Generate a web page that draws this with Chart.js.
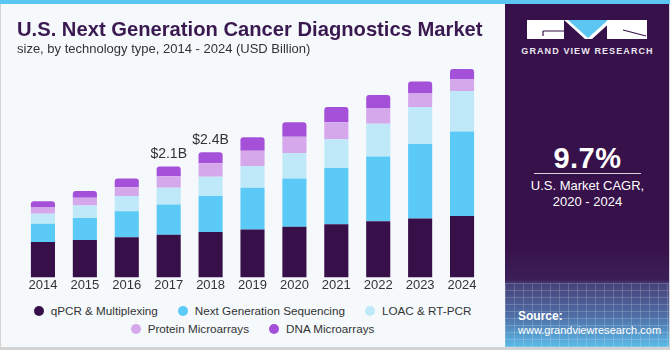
<!DOCTYPE html>
<html>
<head>
<meta charset="utf-8">
<title>U.S. Next Generation Cancer Diagnostics Market</title>
<script src="https://cdn.jsdelivr.net/npm/chart.js@4.4.1/dist/chart.umd.min.js"></script>
<style>
  html, body { margin: 0; padding: 0; }
  body { width: 670px; height: 350px; overflow: hidden; font-family: "Liberation Sans", Arial, sans-serif; }
  #frame { position: relative; width: 670px; height: 350px; background: #f5f9fc; overflow: hidden; }
  .edge { position: absolute; background: #d3d3d3; }
  #stripe { position: absolute; left: 0; top: 0; width: 670px; height: 4px; background: #5cc6f2; z-index: 3; }
  #title { position: absolute; left: 17px; top: 19px; font-size: 20.2px; line-height: 20px; font-weight: bold; color: #3a1850; white-space: nowrap; z-index: 2; }
  #subtitle { position: absolute; left: 17px; top: 42px; font-size: 13px; line-height: 13px; color: #333; white-space: nowrap; z-index: 2; }
  #chartBox { position: absolute; left: 0; top: 0; width: 505px; height: 298px; }
  #legend { position: absolute; left: 22px; top: 305px; width: 461px; display: flex; flex-wrap: wrap; justify-content: center; column-gap: 20px; row-gap: 6px; font-size: 11.7px; line-height: 12px; color: #333; }
  .legend-item { display: flex; align-items: center; white-space: nowrap; }
  .legend-dot { width: 10px; height: 10px; border-radius: 50%; margin-right: 7px; }
  #panel { position: absolute; left: 505px; top: 4px; width: 165px; height: 343px;
    background: linear-gradient(to bottom, #37114a 0px, #37114a 240px, #3c1f57 276px, #47417a 280px, #4f6ea6 312px, #5bbbe8 343px); color: #fff; }
  #grid { position: absolute; left: 0; top: 279px; width: 165px; height: 64px; opacity: 0.5;
    background-image: repeating-linear-gradient(90deg, rgba(255,255,255,0.35) 0 1px, transparent 1px 9px),
                      repeating-linear-gradient(0deg, rgba(255,255,255,0.35) 0 1px, transparent 1px 7px); }
  #logo { position: absolute; left: 0; top: 0; }
  #brand { position: absolute; left: 0; width: 165px; top: 42px; text-align: center; font-size: 9px; line-height: 11px; font-weight: bold; letter-spacing: 1.1px; color: #ece6f2; }
  #cagr { position: absolute; left: 0; width: 165px; top: 137px; text-align: center; font-size: 29px; line-height: 34px; font-weight: bold; letter-spacing: 0.5px; }
  #rule { position: absolute; left: 29px; top: 169px; width: 107px; height: 1px; background: #d8d0e0; }
  #cagrText { position: absolute; left: 0; width: 165px; top: 174px; text-align: center; font-size: 13px; line-height: 16px; }
  #source { position: absolute; left: 13px; top: 305px; font-size: 11px; line-height: 14px; }
  #source b { display: block; font-size: 12px; }
</style>
</head>
<body>
<div id="frame">
  <div id="stripe"></div>
  <div id="title">U.S. Next Generation Cancer Diagnostics Market</div>
  <div id="subtitle">size, by technology type, 2014 - 2024 (USD Billion)</div>
  <div id="chartBox"><canvas id="marketChart"></canvas></div>
  <div id="legend"></div>
  <div id="panel">
    <div id="grid"></div>
    <svg id="logo" width="165" height="40">
      <rect x="22" y="16" width="37" height="19" fill="#fff"/>
      <path d="M38 27 H59 M38 27 V32" stroke="#37114a" stroke-width="1.2" fill="none"/>
      <polygon points="59,16 108,16 87,35 80,35" fill="#fff"/>
      <polygon points="63,16 103,16 83,34" fill="#5cc6f2"/>
      <rect x="102" y="16" width="40" height="19" fill="#fff"/>
      <path d="M118 26 L141 32" stroke="#37114a" stroke-width="1.2" fill="none"/>
    </svg>
    <div id="brand">GRAND VIEW RESEARCH</div>
    <div id="cagr">9.7%</div>
    <div id="rule"></div>
    <div id="cagrText">U.S. Market CAGR,<br>2020 - 2024</div>
    <div id="source"><b>Source:</b>www.grandviewresearch.com</div>
  </div>
  <div class="edge" style="left:0;top:4px;width:1px;height:346px"></div>
  <div class="edge" style="left:669px;top:4px;width:1px;height:346px"></div>
  <div class="edge" style="left:0;top:347px;width:670px;height:3px"></div>
</div>

<script>
// Market size, USD Billion
const years = ['2014', '2015', '2016', '2017', '2018', '2019', '2020', '2021', '2022', '2023', '2024'];
const qpcr = [0.68, 0.72, 0.77, 0.82, 0.87, 0.92, 0.97, 1.02, 1.08, 1.13, 1.18];
const ngs = [0.35, 0.42, 0.50, 0.58, 0.69, 0.80, 0.93, 1.08, 1.24, 1.43, 1.62];
const loac = [0.19, 0.24, 0.29, 0.32, 0.37, 0.42, 0.49, 0.55, 0.63, 0.71, 0.78];
const protein = [0.12, 0.15, 0.17, 0.22, 0.26, 0.29, 0.31, 0.33, 0.29, 0.26, 0.23];
const dna = [0.12, 0.13, 0.17, 0.19, 0.21, 0.26, 0.28, 0.29, 0.26, 0.23, 0.19];
const valueLabels = ['', '', '', '$2.1B', '$2.4B', '', '', '', '', '', ''];

const seriesNames = ['qPCR & Multiplexing', 'Next Generation Sequencing', 'LOAC & RT-PCR', 'Protein Microarrays', 'DNA Microarrays'];
const seriesColors = ['#37104a', '#5bcaf6', '#bfe9f9', '#d5a8ec', '#a550d8'];
const seriesValues = [qpcr, ngs, loac, protein, dna];

// Labels above selected bars
const valueLabelPlugin = {
    id: 'valueLabels',
    afterDatasetsDraw: function(chart) {
        const ctx = chart.ctx;
        const meta = chart.getDatasetMeta(chart.data.datasets.length - 1);
        ctx.save();
        ctx.font = '14px "Liberation Sans", Arial, sans-serif';
        ctx.fillStyle = '#333333';
        ctx.textAlign = 'center';
        ctx.textBaseline = 'alphabetic';
        meta.data.forEach((bar, i) => {
            if (valueLabels[i]) {
                ctx.fillText(valueLabels[i], bar.x, bar.y - 8);
            }
        });
        ctx.restore();
    }
};

const datasets = seriesValues.map((values, i) => {
    const isTop = i === seriesValues.length - 1;
    return {
        label: seriesNames[i],
        data: values,
        backgroundColor: seriesColors[i],
        borderWidth: 0,
        borderRadius: isTop ? { topLeft: 3, topRight: 3, bottomLeft: 0, bottomRight: 0 } : 0,
        borderSkipped: isTop ? 'bottom' : 'start',
        barPercentage: 0.575,
        categoryPercentage: 1
    };
});

const marketChart = new Chart(document.getElementById('marketChart'), {
    type: 'bar',
    data: {
        labels: years,
        datasets: datasets
    },
    options: {
        responsive: true,
        maintainAspectRatio: false,
        animation: false,
        layout: {
            padding: { top: 69, left: 22, right: 22, bottom: 5 }
        },
        plugins: {
            legend: { display: false },
            tooltip: { enabled: false }
        },
        scales: {
            x: {
                stacked: true,
                grid: { display: false, drawTicks: false },
                border: { display: false },
                ticks: {
                    color: '#333333',
                    padding: 0,
                    font: { family: '"Liberation Sans", Arial, sans-serif', size: 13 }
                }
            },
            y: {
                stacked: true,
                display: false,
                min: 0,
                max: 4
            }
        }
    },
    plugins: [valueLabelPlugin]
});

// HTML legend built from the datasets
const legendEl = document.getElementById('legend');
marketChart.data.datasets.forEach(ds => {
    const item = document.createElement('div');
    item.className = 'legend-item';
    const dot = document.createElement('span');
    dot.className = 'legend-dot';
    dot.style.background = ds.backgroundColor;
    const text = document.createElement('span');
    text.textContent = ds.label;
    item.appendChild(dot);
    item.appendChild(text);
    legendEl.appendChild(item);
});
</script>
</body>
</html>
